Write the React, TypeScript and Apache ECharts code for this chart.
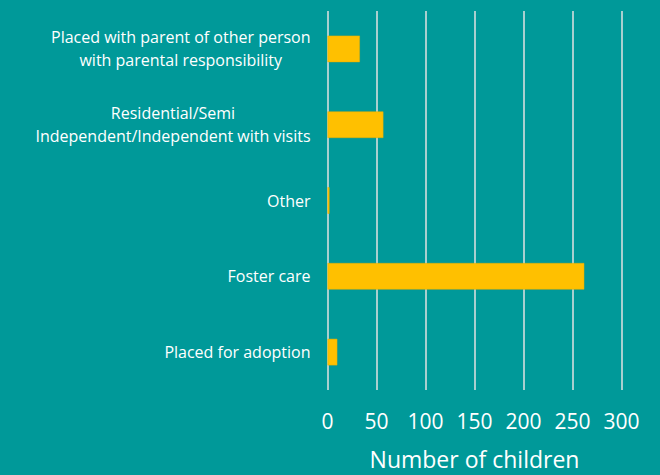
import React, { useEffect, useRef } from "react";
import * as echarts from "echarts";

const categories = [
  "Placed with parent of other person\nwith parental responsibility",
  "Residential/Semi\nIndependent/Independent with visits",
  "Other",
  "Foster care",
  "Placed for adoption",
];
const values = [33, 57, 2, 262, 10];
const xTicks = { min: 0, max: 300, interval: 50 };

const FONT = "'Open Sans', 'Noto Sans', sans-serif";

export default function App() {
  const ref = useRef<HTMLDivElement>(null);
  useEffect(() => {
    if (!ref.current) return;
    const chart = echarts.init(ref.current, undefined, { renderer: "svg" });
    chart.setOption({
      animation: false,
      backgroundColor: "#009999",
      grid: { left: 327.5, right: 38.5, top: 11, bottom: 81.5, containLabel: false },
      xAxis: {
        type: "value",
        min: xTicks.min,
        max: xTicks.max,
        interval: xTicks.interval,
        name: "Number of children",
        nameLocation: "middle",
        nameGap: 57,
        nameTextStyle: { color: "#ffffff", fontSize: 23, fontFamily: FONT },
        axisLine: { show: false },
        axisTick: { show: false },
        axisLabel: { color: "#ffffff", fontSize: 21, fontFamily: FONT, margin: 20 },
        splitLine: { show: true, lineStyle: { color: "#e2e2e2", width: 1.5 } },
      },
      yAxis: {
        type: "category",
        data: categories,
        inverse: true,
        axisLine: { show: false },
        axisTick: { show: false },
        axisLabel: {
          margin: 17,
          formatter: (v: string) =>
            v
              .split("\n")
              .map((l) => `{c|${l}}`)
              .join("\n"),
          rich: {
            c: {
              align: "center",
              color: "#ffffff",
              fontSize: 16,
              lineHeight: 23,
              fontFamily: FONT,
            },
          },
        },
      },
      series: [
        {
          type: "bar",
          data: values,
          barWidth: "35%",
          itemStyle: { color: "#FFC000", borderColor: "#E6AE00", borderWidth: 0.5 },
        },
      ],
    });
    return () => chart.dispose();
  }, []);
  return (
    <div
      ref={ref}
      style={{ position: "fixed", left: 0, top: 0, width: 660, height: 475 }}
    />
  );
}
